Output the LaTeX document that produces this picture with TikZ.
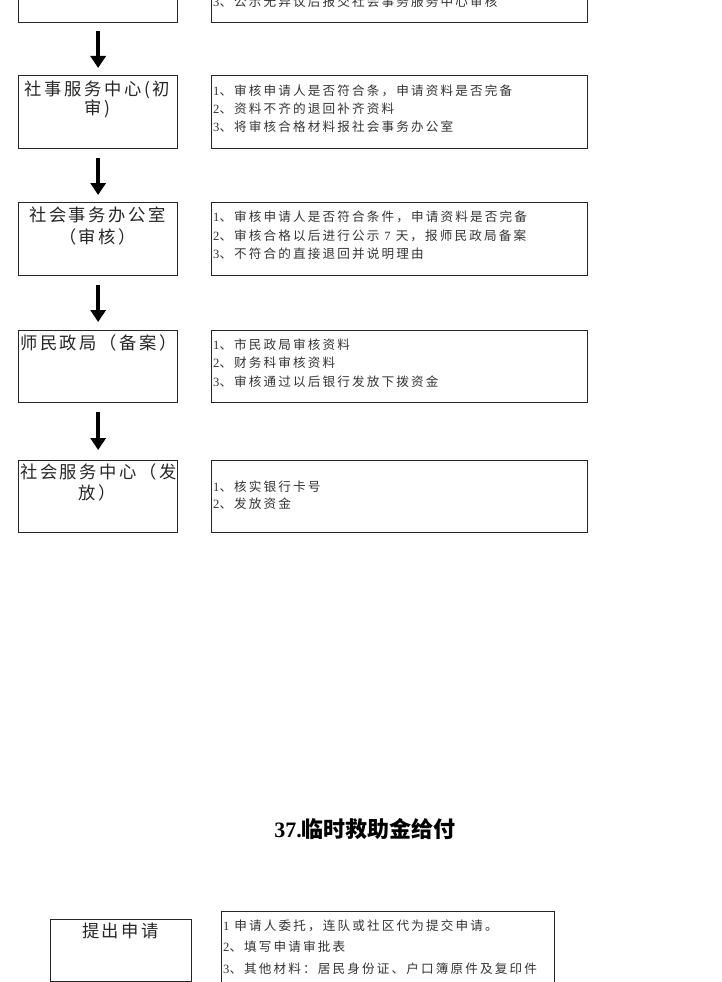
\documentclass[tikz,border=0pt]{standalone}
\usepackage{fontspec}
\setmainfont{Liberation Serif}
\newfontfamily\cjk[LetterSpace=15]{Noto Sans CJK SC}
\newfontfamily\cjkr[LetterSpace=17]{Noto Sans CJK SC}
\newfontfamily\cjkt{Noto Sans CJK SC}
\usetikzlibrary{arrows.meta}
\tikzset{
  box/.style={draw=black!85, line width=1.3pt, inner sep=0pt, anchor=north west},
  lt/.style={inner sep=0pt, anchor=base, font=\cjk\fontsize{17.3}{20}\selectfont, text=black!85},
  rt/.style={inner sep=0pt, anchor=base west, font=\cjkr\fontsize{12.6}{14}\selectfont, text=black!80},
  arr/.style={-{Triangle[width=15pt,length=12pt]}, line width=3.5pt},
}
\newcommand{\dg}[1]{{\rmfamily #1}}
\begin{document}
\begin{tikzpicture}[x=1pt,y=-1pt]
\useasboundingbox (0,0) rectangle (722,982);
\clip (0,0) rectangle (722,982);
% row 1 (cut)
\node[box, minimum width=159pt, minimum height=42pt] (b1) at (18,-20) {};
\node[box, minimum width=376pt, minimum height=42pt] (r1) at (211,-20) {};
\node[rt] (t1) at (213,6.5) {\dg{3}、公示无异议后报交社会事务服务中心审核};
% row 2
\node[box, minimum width=159pt, minimum height=73pt] (b2) at (18,75) {};
\node[box, minimum width=376pt, minimum height=73pt] (r2) at (211,75) {};
\node[lt] (l2a) at (97.5,95) {社事服务中心(初};
\node[lt] (l2b) at (97.5,114) {审)};
\node[rt] (t2a) at (213,95) {\dg{1}、审核申请人是否符合条，申请资料是否完备};
\node[rt] (t2b) at (213,113) {\dg{2}、资料不齐的退回补齐资料};
\node[rt] (t2c) at (213,131.5) {\dg{3}、将审核合格材料报社会事务办公室};
% row 3
\node[box, minimum width=159pt, minimum height=73pt] (b3) at (18,202) {};
\node[box, minimum width=376pt, minimum height=73pt] (r3) at (211,202) {};
\node[lt] (l3a) at (97.5,221) {社会事务办公室};
\node[lt] (l3b) at (97.5,243) {（审核）};
\node[rt] (t3a) at (213,221.5) {\dg{1}、审核申请人是否符合条件，申请资料是否完备};
\node[rt] (t3b) at (213,240) {\dg{2}、审核合格以后进行公示 \dg{7} 天，报师民政局备案};
\node[rt] (t3c) at (213,258.5) {\dg{3}、不符合的直接退回并说明理由};
% row 4
\node[box, minimum width=159pt, minimum height=72pt] (b4) at (18,330) {};
\node[box, minimum width=376pt, minimum height=72pt] (r4) at (211,330) {};
\node[lt] (l4a) at (98.5,349) {师民政局（备案）};
\node[rt] (t4a) at (213,349.5) {\dg{1}、市民政局审核资料};
\node[rt] (t4b) at (213,367.5) {\dg{2}、财务科审核资料};
\node[rt] (t4c) at (213,386) {\dg{3}、审核通过以后银行发放下拨资金};
% row 5
\node[box, minimum width=159pt, minimum height=72pt] (b5) at (18,460) {};
\node[box, minimum width=376pt, minimum height=72pt] (r5) at (211,460) {};
\node[lt] (l5a) at (98.5,478) {社会服务中心（发};
\node[lt] (l5b) at (97.5,499) {放）};
\node[rt] (t5a) at (213,491.5) {\dg{1}、核实银行卡号};
\node[rt] (t5b) at (213,508.5) {\dg{2}、发放资金};
% arrows
\draw[arr] ([yshift=-8pt]b1.south) -- ([yshift=7pt]b2.north);
\draw[arr] ([yshift=-9pt]b2.south) -- ([yshift=7pt]b3.north);
\draw[arr] ([yshift=-9pt]b3.south) -- ([yshift=8pt]b4.north);
\draw[arr] ([yshift=-9pt]b4.south) -- ([yshift=10pt]b5.north);
% title
\node[inner sep=0pt, anchor=base] (title) at (365,837) {\fontsize{22}{26}\selectfont\bfseries 37.{\cjkt\bfseries 临时救助金给付}};
% section 37 first row
\node[box, minimum width=141pt, minimum height=62pt] (b6) at (50,919) {};
\node[box, minimum width=333pt, minimum height=80pt] (r6) at (221,911) {};
\node[lt] (l6a) at (120.5,937) {提出申请};
\node[rt] (t6a) at (223,930) {\dg{1} 申请人委托，连队或社区代为提交申请。};
\node[rt] (t6b) at (223,951) {\dg{2}、填写申请审批表};
\node[rt] (t6c) at (223,973) {\dg{3}、其他材料：居民身份证、户口簿原件及复印件};
\end{tikzpicture}
\end{document}
